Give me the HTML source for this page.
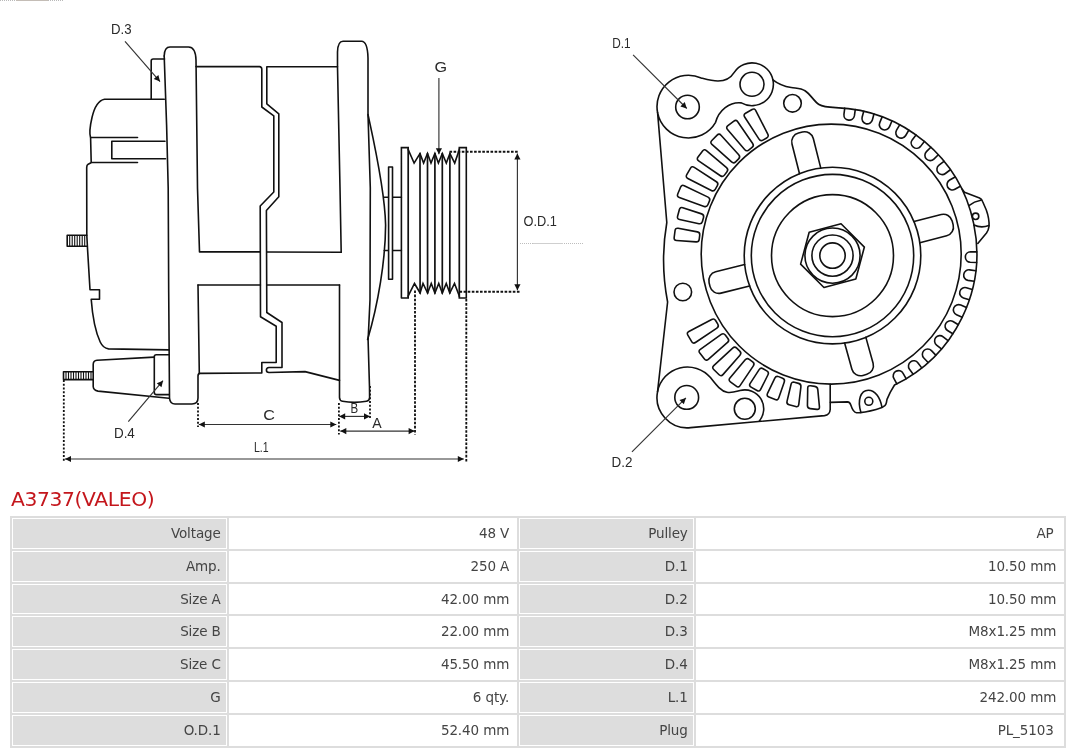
<!DOCTYPE html>
<html lang="en">
<head>
<meta charset="utf-8">
<title>A3737(VALEO)</title>
<style>
html,body{margin:0;padding:0;background:#fff;}
body{width:1080px;height:753px;position:relative;overflow:hidden;font-family:"DejaVu Sans","Liberation Sans",sans-serif;}
#draw,h1,table{will-change:transform;}
#draw{position:absolute;left:0;top:0;width:1080px;height:480px;display:block;}
#draw text{font-family:"Liberation Sans",sans-serif;fill:#2a2a2a;}
h1{position:absolute;left:11px;top:486.7px;letter-spacing:-0.38px;margin:0;font-weight:normal;font-size:20.3px;line-height:24px;color:#c4161c;white-space:nowrap;}
table{position:absolute;left:10px;top:516px;width:1056px;border-collapse:separate;border-spacing:0;border:1px solid #ddd;table-layout:fixed;font-size:13.5px;color:#444;}
td{height:30.8px;padding:0 6.3px 0 0;letter-spacing:-0.12px;border:1px solid #ddd;box-shadow:inset 0 0 0 1px #fff;text-align:right;vertical-align:middle;line-height:30.8px;white-space:nowrap;overflow:hidden;}
td.k{background:#ddd;}
td.v{background:#fff;padding-right:7.8px;}
td.n{padding-right:10.4px;}
</style>
</head>
<body>
<svg id="draw" viewBox="0 0 1080 480" width="1080" height="480">
<style>.l{fill:none;stroke:#111;stroke-width:1.6;stroke-linejoin:round;stroke-linecap:round}.w{fill:#fff;stroke:#111;stroke-width:1.6;stroke-linejoin:round}.t{fill:none;stroke:#333;stroke-width:1.15}.ah{fill:#111;stroke:none}.d{fill:none;stroke:#111;stroke-width:1.85;stroke-dasharray:2.6 1.5}.d2{fill:none;stroke:#111;stroke-width:1.8;stroke-dasharray:2.1 1.65}.h{fill:none;stroke:#111;stroke-width:1.1}.g{fill:none;stroke:#ccc;stroke-width:1;stroke-dasharray:1 1}</style>
<path d="M0,0.5 L64,0.5" stroke="#b9b9b9" stroke-width="1" stroke-dasharray="1 1" fill="none"/><path d="M16,0.5 L48,0.5" stroke="#c4bdb6" stroke-width="1" fill="none"/>
<g id="side-view">
<path class="l" d="M164.3,99.2 L104.5,99.2 C98.5,100.3 94.2,108 92,117.5 C90,126 89,133 90.6,138 L91.2,162"/>
<path class="l" d="M90.8,137.5 L137.5,137.5"/>
<path class="l" d="M165,141.3 L111.8,141.3 L111.8,158.8 L165.5,158.8"/>
<path class="l" d="M137.5,162.5 L91.5,162.5 L88.2,164.2 Q86.7,165.2 86.7,167.5 L86.8,235 L87.6,250 L90,289.8 L99.5,289.8 L99.5,299.3 L91.2,299.3 C92.6,318 96,333 100.2,342 C102,345.8 104.2,348.3 108.5,348.9 L168.9,349.9"/>
<path class="l" d="M164.5,59 L153.2,59 Q151.2,59 151.2,61 L151.2,99.2"/>
<path class="l" d="M86.8,235.3 L67.2,235.3 L67.2,246.3 L87.3,246.3"/>
<path class="h" d="M69.7,235.3 L69.7,246.3"/>
<path class="h" d="M72.2,235.3 L72.2,246.3"/>
<path class="h" d="M74.7,235.3 L74.7,246.3"/>
<path class="h" d="M77.2,235.3 L77.2,246.3"/>
<path class="h" d="M79.7,235.3 L79.7,246.3"/>
<path class="h" d="M82.2,235.3 L82.2,246.3"/>
<path class="h" d="M84.7,235.3 L84.7,246.3"/>
<path class="l" d="M93.2,371.7 L63.5,371.7 L63.5,379.6 L93.2,379.6"/>
<path class="h" d="M66,371.7 L66,379.6"/>
<path class="h" d="M68.5,371.7 L68.5,379.6"/>
<path class="h" d="M71,371.7 L71,379.6"/>
<path class="h" d="M73.5,371.7 L73.5,379.6"/>
<path class="h" d="M76,371.7 L76,379.6"/>
<path class="h" d="M78.5,371.7 L78.5,379.6"/>
<path class="h" d="M81,371.7 L81,379.6"/>
<path class="h" d="M83.5,371.7 L83.5,379.6"/>
<path class="h" d="M86,371.7 L86,379.6"/>
<path class="h" d="M88.5,371.7 L88.5,379.6"/>
<path class="h" d="M91,371.7 L91,379.6"/>
<path class="l" d="M154.3,357.1 L97,360.3 Q93.2,360.8 93.2,364.5 L93.2,386.5 Q93.4,390.3 98,391.1 L168.9,398.3"/>
<path class="l" d="M168.9,354.7 L156.3,354.7 Q154.3,354.7 154.3,356.7 L154.3,392.6 Q154.3,394.6 156.3,394.6 L169.3,394.6"/>
<path class="l" d="M164.2,56 Q164.4,47 170,47 L188.5,47 Q195.6,47 196,60 L197.5,188 L199.5,251.9 L260.3,251.9"/>
<path class="l" d="M164.2,56 L166.6,125 L168.2,188 L168.7,292 L169.5,398 Q170,404 175,404 L192,404 Q198,404 198,398 L198,376 Q198,373.6 200,373.4 L261.8,373 L261.8,362.5 L276.2,362.5 L276.2,326.2 L260.5,316.8 L260.2,206 L273.8,192 L273.8,115.8 L261.8,107 L261.8,69 Q261.6,66.8 259.5,66.6 L196,66.6"/>
<path class="l" d="M198,285 L199.3,373.4"/>
<path class="l" d="M198,285 L260.4,285"/>
<path class="l" d="M337.5,66.7 L266.8,66.7 L266.8,103.8 L278.8,113.8 L278.8,196.8 L266.4,210.5 L266.8,312.5 L282,322.5 L282,367.5 L269,367.5 Q266.4,367.6 266.4,370 Q266.4,372.4 269,372.5 L305,371.6 L339.5,380.4"/>
<path class="l" d="M266.8,252 L341.2,252.2"/>
<path class="l" d="M266.8,285 L339.5,285"/>
<path class="l" d="M341.2,252.2 L340,188 L337.5,66.7 L337.5,52 Q337.8,41.3 343,41.3 L361.5,41.3 Q367.6,41.5 368,58 L368,114.5 L370.3,188 L370,300 L368.1,340 L369.5,387 L369.6,397.5 Q369.6,400.6 366.5,401.2 Q354.5,403.4 342.5,401.3 Q339.6,400.8 339.5,397.5 L339.5,285"/>
<path class="l" d="M368,114.5 C373.5,140 385,190 385.6,225 C385.5,260 378,305 367.6,339.5"/>
<path class="l" d="M384,197.2 L401.4,197.2 M384.3,250.5 L401.4,250.5"/>
<rect class="w" x="388.6" y="167" width="3.9" height="112.3"/>
<path class="l" style="stroke-linejoin:miter;stroke-width:1.6" d="M401.4,298 L401.4,147.6 L408.2,147.6 L408.2,149.5 L414.1,163.1 L420,153.5 L423.6,163.1 L427.5,153.5 L431,163.1 L434.9,153.5 L438.4,163.1 L442.3,153.5 L446.3,163.1 L449.9,153.5 L454.7,163.1 L459.3,149.8 L459.3,147.6 L466.3,147.6 L466.3,298 L459.3,298 L459.3,296 L454.5,283.5 L449.8,293 L446.25,283.5 L442.3,293 L438.75,283.5 L434.9,293 L431.25,283.5 L427.6,293 L423,283.5 L420.1,293 L414.5,283.5 L408.2,296 L408.2,298 L401.4,298"/>
<path class="l" style="stroke-width:1.7" d="M420,153.5 L420.1,293"/>
<path class="l" style="stroke-width:1.7" d="M427.5,153.5 L427.6,293"/>
<path class="l" style="stroke-width:1.7" d="M434.9,153.5 L434.9,293"/>
<path class="l" style="stroke-width:1.7" d="M442.3,153.5 L442.3,293"/>
<path class="l" style="stroke-width:1.7" d="M449.9,153.5 L449.8,293"/>
<path class="l" style="stroke-width:1.7" d="M408.2,149 L408.2,296.5 M459.3,149 L459.3,296.5"/>
<path class="d" d="M449.5,151.7 L518.5,151.7"/>
<path class="d" d="M459.5,291.7 L521,291.7"/>
<path class="d" d="M415,290.5 L415,434.5"/>
<path class="d" d="M466.3,299 L466.3,462"/>
<path class="d2" d="M338.9,403 L338.9,434.5"/>
<path class="d2" d="M370,386 L370,418.5"/>
<path class="d2" d="M198,403 L198,427"/>
<path class="d2" d="M63.8,380 L63.8,462"/>
<path d="M520,243.5 L584,243.5" stroke="#bdbdbd" stroke-width="1" stroke-dasharray="1 1" fill="none"/><path d="M533,243.5 L563,243.5" stroke="#cfcfcf" stroke-width="1" fill="none"/>
<path class="t" d="M438.9,78 L438.9,154.2"/>
<path class="ah" d="M438.9,154.2 L435.8,148.2 L442,148.2 Z"/>
<path class="t" d="M517.4,153.6 L517.4,290.3"/>
<path class="ah" d="M517.4,290.3 L514.3,284.3 L520.5,284.3 Z"/>
<path class="ah" d="M517.4,153.6 L520.5,159.6 L514.3,159.6 Z"/>
<path class="t" d="M198.8,424.5 L336.3,424.5"/>
<path class="ah" d="M336.3,424.5 L330.3,427.6 L330.3,421.4 Z"/>
<path class="ah" d="M198.8,424.5 L204.8,421.4 L204.8,427.6 Z"/>
<path class="t" d="M339.2,416.4 L370,416.4"/>
<path class="ah" d="M370,416.4 L364,419.5 L364,413.3 Z"/>
<path class="ah" d="M339.2,416.4 L345.2,413.3 L345.2,419.5 Z"/>
<path class="t" d="M340.3,431.1 L414.6,431.1"/>
<path class="ah" d="M414.6,431.1 L408.6,434.2 L408.6,428 Z"/>
<path class="ah" d="M340.3,431.1 L346.3,428 L346.3,434.2 Z"/>
<path class="t" d="M65,459 L463.8,459"/>
<path class="ah" d="M463.8,459 L457.8,462.1 L457.8,455.9 Z"/>
<path class="ah" d="M65,459 L71,455.9 L71,462.1 Z"/>
<path class="t" d="M125,41.3 L160,81.6"/>
<path class="ah" d="M160,81.6 L153.73,79.1 L158.41,75.04 Z"/>
<path class="t" d="M128.3,421.6 L163,380.7"/>
<path class="ah" d="M163,380.7 L161.48,387.28 L156.75,383.27 Z"/>
<text transform="translate(111,34.06) scale(0.927,1)" font-size="14.22">D.3</text>
<text transform="translate(434.59,71.75) scale(1.082,1)" font-size="14.93">G</text>
<text transform="translate(523.46,226.46) scale(0.899,1)" font-size="14.22">O.D.1</text>
<text transform="translate(113.92,438.4) scale(0.910,1)" font-size="14.78">D.4</text>
<text transform="translate(263.29,419.65) scale(1.084,1)" font-size="14.93">C</text>
<text transform="translate(350.58,413.1) scale(0.810,1)" font-size="14.2">B</text>
<text transform="translate(372.3,427.8) scale(0.992,1)" font-size="14.2">A</text>
<text transform="translate(253.96,451.6) scale(0.714,1)" font-size="14.78">L.1</text>
</g>
<g id="front-view">
<path class="l" d="M913.95,221.5 L941.21,214.5 A9,9 0 0 1 952.16,220.98 L953.16,224.85 A9,9 0 0 1 946.68,235.81 L919.85,242.69"/>
<path class="l" d="M799.51,173.7 L791.98,143.95 A9,9 0 0 1 798.5,133.02 L802.38,132.04 A9,9 0 0 1 813.31,138.56 L820.78,168.08"/>
<path class="l" d="M749.58,285.94 L720.99,293.13 A9,9 0 0 1 710.07,286.59 L709.09,282.71 A9,9 0 0 1 715.63,271.79 L744.65,264.5"/>
<path class="l" d="M865.87,337.35 L873.1,363.25 A9,9 0 0 1 866.85,374.34 L863,375.42 A9,9 0 0 1 851.91,369.17 L844.62,343.06"/>
<circle class="l" cx="831.2" cy="254.1" r="130"/>
<circle class="l" cx="832.5" cy="255.6" r="88.3"/>
<circle class="l" cx="832.5" cy="255.6" r="81.2"/>
<circle class="l" cx="832.5" cy="255.6" r="61"/>
<circle class="l" cx="832.5" cy="255.6" r="27.6"/>
<circle class="l" cx="832.5" cy="255.6" r="20.6"/>
<circle class="l" cx="832.5" cy="255.6" r="12.7"/>
<path class="l" d="M841.04,223.72 L864.38,247.06 L855.83,278.93 L823.96,287.48 L800.62,264.14 L809.17,232.27Z"/>
<path class="l" d="M699.2,239.32 Q698.84,242.1 696.05,241.9 L676.6,240.48 Q673.81,240.27 674.16,237.5 L675.05,230.58 Q675.4,227.8 678.16,228.31 L697.34,231.84 Q700.09,232.35 699.74,235.13 Z"/>
<path class="l" d="M702.43,221.55 Q701.7,224.25 698.96,223.67 L679.59,219.56 Q676.85,218.97 677.58,216.27 L679.4,209.52 Q680.13,206.81 682.79,207.69 L701.6,213.88 Q704.26,214.76 703.53,217.46 Z"/>
<path class="l" d="M707.86,204.8 Q706.78,207.38 704.15,206.44 L679.3,197.51 Q676.66,196.57 677.74,193.98 L680.64,187.05 Q681.73,184.46 684.25,185.67 L708.05,197.1 Q710.58,198.31 709.5,200.9 Z"/>
<path class="l" d="M715.24,189.33 Q713.83,191.75 711.34,190.47 L687.85,178.42 Q685.36,177.14 686.76,174.72 L690.54,168.21 Q691.94,165.79 694.29,167.32 L716.42,181.71 Q718.77,183.24 717.36,185.66 Z"/>
<path class="l" d="M724.41,175.12 Q722.71,177.34 720.4,175.76 L698.63,160.82 Q696.32,159.23 698.02,157.01 L702.59,151.04 Q704.29,148.81 706.42,150.62 L726.55,167.72 Q728.68,169.53 726.98,171.75 Z"/>
<path class="l" d="M735.63,161.85 Q733.66,163.84 731.57,161.96 L711.94,144.31 Q709.86,142.44 711.83,140.46 L717.14,135.13 Q719.12,133.15 721,135.22 L738.72,154.8 Q740.6,156.87 738.62,158.85 Z"/>
<path class="l" d="M748.67,150.02 Q746.45,151.73 744.63,149.6 L727.51,129.5 Q725.69,127.37 727.91,125.67 L733.88,121.09 Q736.1,119.39 737.69,121.69 L752.66,143.44 Q754.25,145.74 752.03,147.45 Z"/>
<path class="l" d="M762.96,140.14 Q760.54,141.54 759.02,139.19 L744.66,117.04 Q743.13,114.69 745.56,113.29 L752.07,109.53 Q754.5,108.13 755.77,110.62 L767.78,134.13 Q769.05,136.63 766.63,138.03 Z"/>
<path class="l" d="M717.79,324.19 Q719.22,326.6 716.89,328.15 L695.44,342.49 Q693.11,344.05 691.68,341.64 L687.83,335.19 Q686.4,332.79 688.87,331.48 L711.69,319.43 Q714.17,318.12 715.6,320.53 Z"/>
<path class="l" d="M727.91,338.4 Q729.64,340.59 727.54,342.44 L708.29,359.33 Q706.19,361.17 704.45,358.98 L699.8,353.09 Q698.07,350.9 700.35,349.28 L721.24,334.47 Q723.52,332.85 725.26,335.05 Z"/>
<path class="l" d="M739.79,351.16 Q741.8,353.11 739.95,355.22 L722.94,374.62 Q721.1,376.72 719.09,374.77 L713.71,369.53 Q711.7,367.58 713.75,365.68 L732.67,348.13 Q734.72,346.23 736.73,348.18 Z"/>
<path class="l" d="M752.68,361.85 Q754.91,363.53 753.35,365.86 L740.04,385.59 Q738.47,387.91 736.24,386.23 L730.37,381.8 Q728.13,380.12 729.93,377.97 L745.23,359.74 Q747.03,357.6 749.27,359.28 Z"/>
<path class="l" d="M766.8,370.84 Q769.23,372.23 767.98,374.74 L760.65,389.41 Q759.4,391.92 756.97,390.52 L751.1,387.16 Q748.67,385.77 750.19,383.42 L759.14,369.68 Q760.67,367.33 763.1,368.72 Z"/>
<path class="l" d="M782.59,378.25 Q785.18,379.31 784.27,381.96 L778.71,398.03 Q777.79,400.67 775.2,399.61 L768.9,397.03 Q766.31,395.96 767.52,393.44 L774.84,378.09 Q776.05,375.57 778.64,376.63 Z"/>
<path class="l" d="M798.53,383.36 Q801.24,384.09 800.9,386.87 L798.79,404.46 Q798.45,407.24 795.74,406.54 L789.1,404.84 Q786.38,404.15 787.02,401.42 L791.07,384.25 Q791.71,381.52 794.41,382.25 Z"/>
<path class="l" d="M814.76,386.41 Q817.53,386.8 817.8,389.59 L819.45,406.89 Q819.72,409.68 816.94,409.36 L810.17,408.59 Q807.39,408.27 807.43,405.47 L807.71,388.22 Q807.76,385.42 810.53,385.81 Z"/>
<path class="l" d="M844.76,108.18 L843.94,114.33 A5.3,5.3 0 0 0 854.44,115.73 L855.26,109.58"/>
<path class="l" d="M863.74,111.29 L862.12,117.27 A5.3,5.3 0 0 0 872.35,120.04 L873.97,114.06"/>
<path class="l" d="M882.15,116.86 L879.76,122.58 A5.3,5.3 0 0 0 889.54,126.67 L891.93,120.95"/>
<path class="l" d="M899.67,124.81 L896.55,130.17 A5.3,5.3 0 0 0 905.71,135.51 L908.83,130.15"/>
<path class="l" d="M916,134.99 L912.2,139.89 A5.3,5.3 0 0 0 920.57,146.38 L924.37,141.48"/>
<path class="l" d="M930.84,147.22 L926.43,151.58 A5.3,5.3 0 0 0 933.88,159.12 L938.29,154.76"/>
<path class="l" d="M943.95,161.3 L939.01,165.04 A5.3,5.3 0 0 0 945.4,173.5 L950.35,169.76"/>
<path class="l" d="M955.1,176.98 L949.7,180.04 A5.3,5.3 0 0 0 954.93,189.26 L960.33,186.2"/>
<path class="l" d="M976.79,251.87 L970.59,251.72 A5.3,5.3 0 0 0 970.33,262.31 L976.53,262.47"/>
<path class="l" d="M975.78,270.83 L969.65,269.87 A5.3,5.3 0 0 0 968.02,280.34 L974.15,281.3"/>
<path class="l" d="M972.32,289.49 L966.37,287.75 A5.3,5.3 0 0 0 963.39,297.92 L969.35,299.67"/>
<path class="l" d="M966.47,307.55 L960.8,305.05 A5.3,5.3 0 0 0 956.53,314.76 L962.2,317.25"/>
<path class="l" d="M958.33,324.7 L953.03,321.49 A5.3,5.3 0 0 0 947.53,330.55 L952.84,333.77"/>
<path class="l" d="M948.04,340.65 L943.19,336.77 A5.3,5.3 0 0 0 936.57,345.05 L941.42,348.93"/>
<path class="l" d="M935.76,355.13 L931.46,350.66 A5.3,5.3 0 0 0 923.82,358.01 L928.12,362.48"/>
<path class="l" d="M921.71,367.89 L918.02,362.9 A5.3,5.3 0 0 0 909.49,369.2 L913.18,374.19"/>
<path class="l" d="M906.12,378.73 L903.11,373.3 A5.3,5.3 0 0 0 893.84,378.44 L896.85,383.87"/>
<circle class="l" cx="687.5" cy="107" r="11.8"/>
<circle class="l" cx="686.7" cy="397.4" r="11.9"/>
<circle class="l" cx="752" cy="84.3" r="12"/>
<circle class="l" cx="792.5" cy="103.3" r="8.8"/>
<circle class="l" cx="682.8" cy="292" r="8.8"/>
<circle class="l" cx="744.8" cy="408.8" r="10.5"/>
<circle class="l" cx="868.8" cy="401.3" r="4"/>
<circle class="l" cx="975.6" cy="216.3" r="3.2"/>
<path class="l" d="M657.58,112.59 A31.4,31.4 0 0 1 701.17,77.91 C707,79.5 712,81 718,81 C725,81 731,77.5 734.26,72.33 A21.4,21.4 0 0 1 772.93,79.85 C777.5,83.5 783,86.2 791.2,87.5 C797,88.4 801,88.2 805,90.7 C811,94.6 813.5,101 819,104.5 C823,107 828,107.3 835.8,107.59 A146.1,146.1 0 0 1 894.52,385.03 L890.2,392.3 L887,399.4 L886.3,403 Q885.9,405.8 882,407.4 C876,409.5 868,411.8 860,412.6 L856.5,412.7 C853.5,412.3 852.3,409.5 850.9,405.2 Q849.9,402 847.5,401.9 L830.4,402.4"/>
<path class="l" d="M772.93,79.85 A21.4,21.4 0 0 1 741.3,102.83 C729.5,101.6 718.8,110.4 715.59,122.3 A31.4,31.4 0 0 1 657.58,112.59 L666.8,222.5 A221,221 0 0 0 667.6,302 L657.56,391.6 "/>
<path class="l" d="M830.2,384.2 L830.2,409.5 Q829.8,415 824.5,415.6 L690.58,427.63 A30.4,30.4 0 0 1 657.56,391.6 A30.4,30.4 0 0 1 710.69,377.86 C716.5,385.3 721,391.2 727,392.3 C732,393.2 736,391.6 739.91,390.54 A18.9,18.9 0 0 1 758.85,421.45 "/>
<path class="l" d="M860.9,412.4 C857.2,400.5 860.5,390.2 868.3,390.2 C875.5,390.2 880.3,398 882,407.3"/>
<path class="l" d="M962.2,189.2 L964.5,192.2 L979.5,198 Q981.8,199 982.6,201.5 L986.3,210 Q989.5,219 989,226.3 Q988.6,230 986.5,233 L977.8,243.5"/>
<path class="l" d="M969.3,205.3 Q974,201.5 980.8,200.2"/>
<path class="l" d="M974,225 Q981,228.5 988.9,225.5"/>
<path class="t" d="M633.1,54.8 L686.8,108.5"/>
<path class="ah" d="M686.8,108.5 L680.37,106.45 L684.75,102.07 Z"/>
<path class="t" d="M632,451.9 L685.9,397.9"/>
<path class="ah" d="M685.9,397.9 L683.86,404.34 L679.47,399.96 Z"/>
<text transform="translate(612.15,47.7) scale(0.803,1)" font-size="14.71">D.1</text>
<text transform="translate(611.53,467) scale(0.931,1)" font-size="14.43">D.2</text>
</g>
</svg>
<h1>A3737(VALEO)</h1>
<table>
<colgroup><col style="width:217px"><col style="width:290px"><col style="width:177px"><col style="width:370px"></colgroup>
<tr><td class="k">Voltage</td><td class="v">48 V</td><td class="k">Pulley</td><td class="v n">AP</td></tr>
<tr><td class="k">Amp.</td><td class="v">250 A</td><td class="k">D.1</td><td class="v">10.50 mm</td></tr>
<tr><td class="k">Size A</td><td class="v">42.00 mm</td><td class="k">D.2</td><td class="v">10.50 mm</td></tr>
<tr><td class="k">Size B</td><td class="v">22.00 mm</td><td class="k">D.3</td><td class="v">M8x1.25 mm</td></tr>
<tr><td class="k">Size C</td><td class="v">45.50 mm</td><td class="k">D.4</td><td class="v">M8x1.25 mm</td></tr>
<tr><td class="k">G</td><td class="v">6 qty.</td><td class="k">L.1</td><td class="v">242.00 mm</td></tr>
<tr><td class="k">O.D.1</td><td class="v">52.40 mm</td><td class="k">Plug</td><td class="v n">PL_5103</td></tr>
</table>
</body></html>
